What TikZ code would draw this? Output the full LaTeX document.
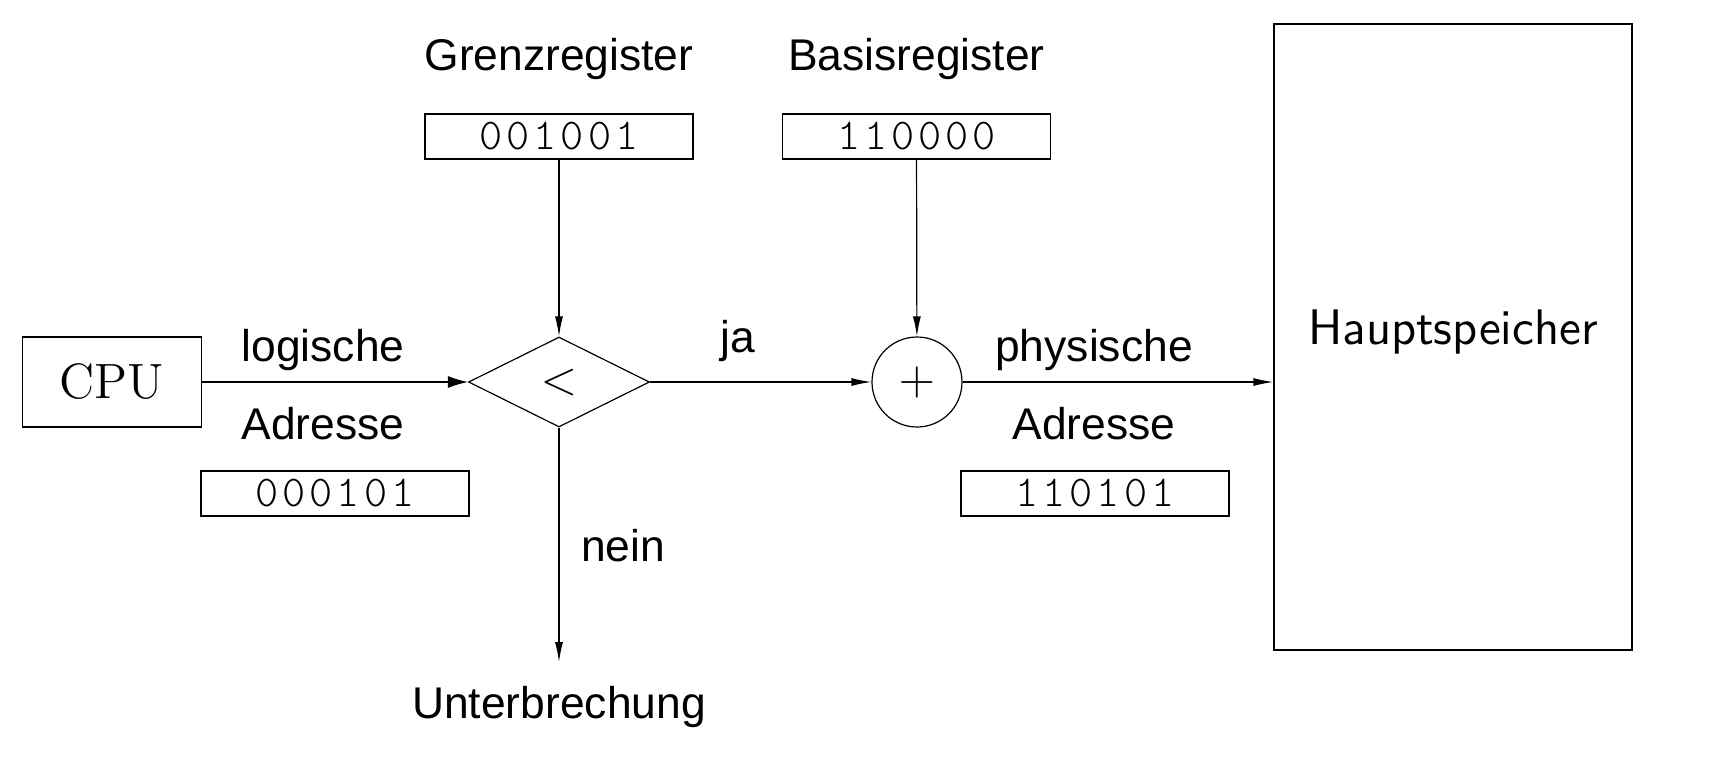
\documentclass[tikz,border=0pt]{standalone}
\usepackage{fontspec}
\newfontfamily\helv{Liberation Sans}
\newfontfamily\digitfont[LetterSpace=9]{Latin Modern Mono Light}
\usetikzlibrary{shapes.geometric,arrows.meta}
\begin{document}
\begin{tikzpicture}[x=0.25pt,y=-0.25pt,
  line width=0.3pt,
  lbl/.style={font=\helv\fontsize{11.1}{13}\selectfont, inner sep=0pt, anchor=base},
  reg/.style={draw, minimum width=67pt, minimum height=11.25pt, inner sep=0pt,
              font=\digitfont\fontsize{11}{13}\selectfont},
  arrbig/.style={-{Latex[length=5pt,width=3pt]}},
  arr/.style={-{Latex[length=5pt,width=2pt]}},
  mathsym/.style={font=\fontsize{13}{15}\selectfont}]
\useasboundingbox (0,0) rectangle (1716,762);

% main nodes
\node[draw, minimum width=44.75pt, minimum height=22.5pt, inner sep=0pt,
      font=\rmfamily\fontsize{12.4}{14}\selectfont] (cpu) at (112,382) {CPU};
\node[draw, diamond, minimum width=45.25pt, minimum height=22.5pt, inner sep=0pt,
      mathsym] (dia) at (559,382) {$<$};
\node[draw, circle, minimum size=22.5pt, inner sep=0pt, mathsym] (plus) at (917,382) {$+$};
\node[draw, minimum width=89.5pt, minimum height=156.5pt, inner sep=0pt,
      font=\sffamily\fontsize{12.5}{14}\selectfont] (haupt) at (1453,337)
      {\raisebox{4.8pt}{Hauptspeicher}};

% registers
\node[reg] (grenz) at (559,136.5) {001001};
\node[reg] (basis) at (916.5,136.5) {110000};
\node[reg] (logreg) at (335,493.5) {000101};
\node[reg] (phyreg) at (1095,493.5) {110101};

% labels
\node[lbl] (tgrenz) at (559,70) {Grenzregister};
\node[lbl] (tbasis) at (916.5,70) {Basisregister};
\node[lbl] (tlog1) at (323,361) {logische};
\node[lbl] (tlog2) at (323,439) {Adresse};
\node[lbl] (tja) at (738,352) {ja};
\node[lbl] (tphy1) at (1094,361) {physische};
\node[lbl] (tphy2) at (1094,439) {Adresse};
\node[lbl] (tnein) at (623,561) {nein};
\node[lbl] (tint) at (559,718) {Unterbrechung};

\coordinate (intend) at (559,662);

% connectors
\draw[arrbig] (cpu) -- (dia);
\draw[arr] (dia) -- (plus);
\draw[arr] (plus) -- (plus -| haupt.west);
\draw[arr] (grenz) -- (dia);
\draw[arr] (basis) -- (plus);
\draw[arr] (dia) -- (intend);
\end{tikzpicture}
\end{document}
